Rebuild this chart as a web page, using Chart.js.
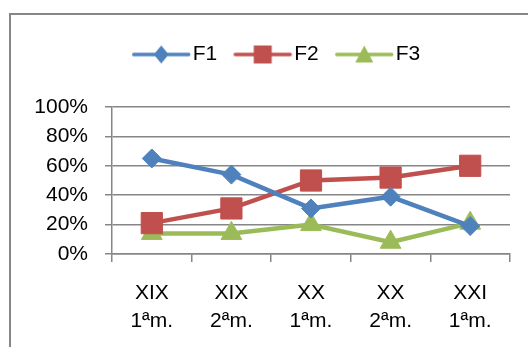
<!DOCTYPE html>
<html>
<head>
<meta charset="utf-8">
<script src="https://cdn.jsdelivr.net/npm/chart.js@4/dist/chart.umd.min.js"></script>
<style>
  html, body { margin: 0; padding: 0; background: #fff; }
  #wrap { width: 528px; height: 347px; position: relative; }
</style>
</head>
<body>
<div id="wrap"><canvas id="c" width="528" height="347"></canvas></div>
<script>
// Periods (century / half) on the x axis
const categories = [['XIX', '1ªm.'], ['XIX', '2ªm.'], ['XX', '1ªm.'], ['XX', '2ªm.'], ['XXI', '1ªm.']];
// Series values, in percent
const f1 = [65, 54, 31, 39, 19];
const f2 = [21, 31, 50, 52, 60];
const f3 = [14, 14, 20, 8, 21];
const seriesNames = ['F1', 'F2', 'F3'];
// Y tick values (percent)
const yTicks = [0, 20, 40, 60, 80, 100];

const BLUE = '#4F81BD', RED = '#C0504D', GREEN = '#9BBB59', GRID = '#868686';
const FONT = "'Liberation Sans', Arial, sans-serif";
const FSIZE = 21;

// Legend swatch: a short line with the series marker in its middle
const SWATCH_BOX = 48.5;   // space reserved by the legend for each swatch
const LINE_LEN = 55;
function makeSwatch(color, marker) {
  const W = 80, H = 24;
  const cv = document.createElement('canvas');
  cv.width = W; cv.height = H;
  const ctx = cv.getContext('2d');
  const x0 = W / 2 - SWATCH_BOX / 2;
  const cy = H / 2;
  ctx.strokeStyle = color; ctx.fillStyle = color;
  ctx.lineWidth = 3.5; ctx.lineCap = 'round';
  ctx.beginPath(); ctx.moveTo(x0, cy); ctx.lineTo(x0 + LINE_LEN, cy); ctx.stroke();
  const mx = x0 + LINE_LEN / 2;
  ctx.beginPath();
  if (marker === 'diamond') {
    ctx.moveTo(mx, cy - 9); ctx.lineTo(mx + 7.5, cy); ctx.lineTo(mx, cy + 9); ctx.lineTo(mx - 7.5, cy);
  } else if (marker === 'square') {
    ctx.rect(mx - 9, cy - 9, 18, 18);
  } else {
    ctx.moveTo(mx, cy - 9); ctx.lineTo(mx + 9, cy + 8); ctx.lineTo(mx - 9, cy + 8);
  }
  ctx.closePath(); ctx.fill();
  return cv;
}
const swatches = [makeSwatch(BLUE, 'diamond'), makeSwatch(RED, 'square'), makeSwatch(GREEN, 'triangle')];

// Outer frame of the chart box (top and left edges)
const framePlugin = {
  id: 'frame',
  beforeDraw(chart) {
    const ctx = chart.ctx;
    ctx.save();
    ctx.strokeStyle = GRID; ctx.lineWidth = 2;
    ctx.beginPath();
    ctx.moveTo(10, chart.height + 5); ctx.lineTo(10, 14); ctx.lineTo(chart.width + 5, 14);
    ctx.stroke();
    ctx.restore();
  }
};

// Centre the legend on the whole chart box and leave a gap above the plot
const legendShift = {
  id: 'legendShift',
  afterLayout(chart) {
    const lg = chart.legend;
    if (lg) {
      lg.left += 22; lg.right += 22;
      lg.top -= 32; lg.bottom -= 32;
    }
  }
};

function ds(label, data, color, style, radius) {
  return {
    label, data,
    borderColor: color, backgroundColor: color,
    borderWidth: 4.5,
    pointStyle: style, pointRadius: radius, pointHoverRadius: radius,
    pointBackgroundColor: color, pointBorderColor: color, pointBorderWidth: 1,
    tension: 0
  };
}

new Chart(document.getElementById('c'), {
  type: 'line',
  data: {
    labels: categories,
    datasets: [
      ds(seriesNames[0], f1, BLUE, 'rectRot', 9.5),
      ds(seriesNames[1], f2, RED, 'rect', 15),
      ds(seriesNames[2], f3, GREEN, 'triangle', 12)
    ]
  },
  options: {
    responsive: false,
    animation: false,
    events: [],
    layout: { padding: { left: 0, right: 18, top: 58, bottom: 0 } },
    plugins: {
      tooltip: { enabled: false },
      legend: {
        position: 'top',
        labels: {
          usePointStyle: true,
          pointStyleWidth: SWATCH_BOX,
          padding: 18,
          color: '#000',
          font: { family: FONT, size: FSIZE },
          generateLabels(chart) {
            return chart.data.datasets.map((d, i) => ({
              text: d.label, pointStyle: swatches[i], fontColor: '#000',
              datasetIndex: i, hidden: false, lineWidth: 0
            }));
          }
        }
      }
    },
    scales: {
      x: {
        type: 'category',
        offset: true,
        grid: { offset: true, drawOnChartArea: false, drawTicks: true, tickLength: 8, color: GRID, lineWidth: 1.5 },
        border: { display: true, color: GRID, width: 1.5 },
        ticks: { color: '#000', font: { family: FONT, size: FSIZE, lineHeight: 1.35 }, padding: 17, maxRotation: 0, autoSkip: false },
        afterFit(scale) { scale.height = 93; }
      },
      y: {
        min: 0, max: 100,
        afterBuildTicks(scale) { scale.ticks = yTicks.map(v => ({ value: v })); },
        grid: { color: GRID, lineWidth: 1.5, tickLength: 7 },
        border: { display: true, color: GRID, width: 1.5 },
        ticks: { color: '#000', font: { family: FONT, size: FSIZE }, padding: 17, callback: v => v + '%' },
        afterFit(scale) { scale.width = 112; }
      }
    }
  },
  plugins: [framePlugin, legendShift]
});
</script>
</body>
</html>
